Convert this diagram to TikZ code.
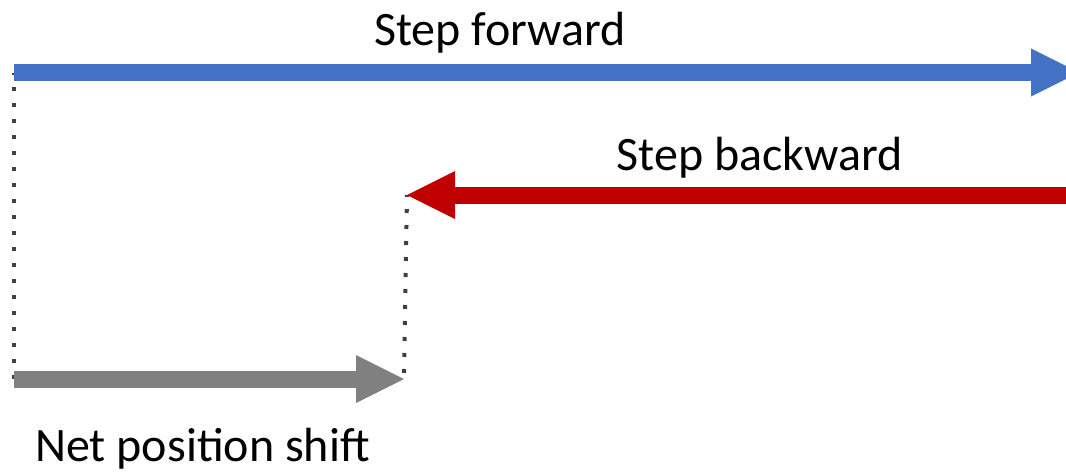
\documentclass[tikz,border=0pt]{standalone}
\usepackage{fontspec}
\setmainfont{Carlito}
\usetikzlibrary{arrows.meta}
\definecolor{fwdblue}{HTML}{4472C4}
\definecolor{bwdred}{HTML}{C00000}
\definecolor{netgray}{HTML}{808080}
\definecolor{dotgray}{HTML}{404040}
\begin{document}
\begin{tikzpicture}[x=0.75pt,y=-0.75pt,
  bigarrow/.style={line width=12.75pt, line cap=butt,
    -{Triangle[length=36pt,width=36pt,line width=0pt]}},
  dotline/.style={dotgray, line width=3pt, line cap=butt, dash pattern=on 3pt off 9pt, dash phase=1.5pt},
  lbl/.style={anchor=base, inner sep=0pt, font=\fontsize{36}{43}\selectfont}]
\useasboundingbox (0,0) rectangle (1066,472);
\clip (0,0) rectangle (1066,472);
% coordinates
\coordinate (fwdstart) at (14,72.5);
\coordinate (fwdend) at (1079,72.5);
\coordinate (bwdstart) at (1080,195);
\coordinate (bwdend) at (407,195);
\coordinate (netstart) at (14,379);
\coordinate (netend) at (404,379);
% dotted guides
\draw[dotline] (fwdstart) -- (netstart);
\draw[dotline] (bwdend) -- (netend);
% arrows
\draw[bigarrow, fwdblue] (fwdstart) -- (fwdend);
\draw[bigarrow, bwdred] (bwdstart) -- (bwdend);
\draw[bigarrow, netgray] (netstart) -- (netend);
% labels
\node[lbl] (fwdlabel) at (500,45) {Step forward};
\node[lbl] (bwdlabel) at (759.5,170) {Step backward};
\node[lbl] (netlabel) at (202.5,461) {Net position shift};
\end{tikzpicture}
\end{document}
